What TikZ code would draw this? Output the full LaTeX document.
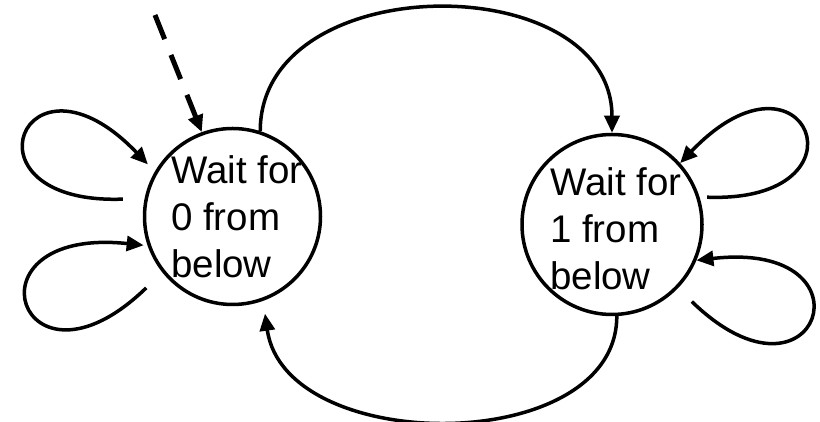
\documentclass[tikz,border=0pt]{standalone}
\usepackage{fontspec}
\setmainfont{Liberation Sans}
\usetikzlibrary{arrows.meta,calc}

\begin{document}
\begin{tikzpicture}[x=1pt, y=1pt,
  state/.style={draw, circle, line width=3.5pt, inner sep=0pt},
  txt/.style={align=left, anchor=base west, inner sep=0pt, font=\fontsize{38.5}{47}\selectfont},
  arr/.style={-{Triangle[length=17pt, width=15pt]}, line width=3.5pt}]
\useasboundingbox (0,0) rectangle (820,422);
\node[state, minimum size=176pt] (s0) at (232.5,205.5) {};
\node[state, minimum size=180pt] (s1) at (612,197.5) {};
\node[txt] (t0) at (171,144) {Wait for\\0 from\\below};
\node[txt] (t1) at (550,132) {Wait for\\1 from\\below};
\coordinate (init) at (155,407);
\coordinate (l0a) at ($(s0)+(171:111)$);
\coordinate (l0b) at ($(s0)+(-140.4:112)$);
\coordinate (l1a) at ($(s1)+(16:99)$);
\coordinate (l1b) at ($(s1)+(-44:111)$);
% start state
\draw[arr, line width=5pt, dash pattern=on 26pt off 17pt] (init) -- (s0.110);
% self loops
\draw[arr, shorten >=10pt] (l0a) .. controls +(-168,-6) and +(-131,137) .. (s0.150);
\draw[arr, shorten >=4pt] (l0b) .. controls +(-126,-122) and +(-189,20) .. (s0.-161);
\draw[arr] (l1a) .. controls +(168,-6) and +(126,132) .. (s1.42);
\draw[arr] (l1b) .. controls +(126,-122) and +(183,21) .. (s1.-23);
% between the states
\draw[arr] (s0.72) .. controls +(0,164) and +(0,166) .. (s1.90);
\draw[arr, shorten >=13pt] (s1.-87) .. controls +(0,-141) and +(22,-156) .. (s0.-70);
\end{tikzpicture}
\end{document}
